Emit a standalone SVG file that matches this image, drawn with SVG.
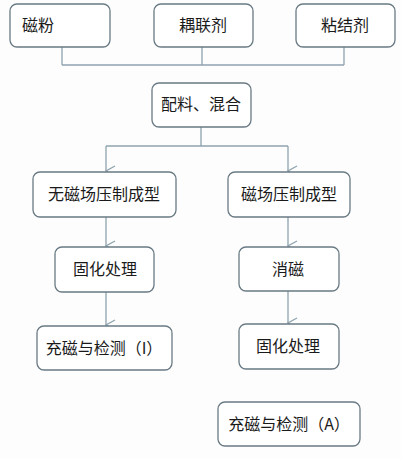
<svg xmlns="http://www.w3.org/2000/svg" width="401" height="459" viewBox="0 0 401 459">
<style>
.box{fill:#ffffff;stroke:#6a7a84;stroke-width:1.3}
.t{font-family:"Noto Sans CJK SC","Liberation Sans",sans-serif;font-size:16px;fill:#1a1a1a;text-anchor:middle}
.c{fill:none;stroke:#8ea3ae;stroke-width:1.3}
</style>
<defs>
<marker id="ah" viewBox="0 0 12 12" refX="6" refY="11" markerWidth="12" markerHeight="12" markerUnits="userSpaceOnUse" orient="auto-start-reverse">
<path d="M1,2 L6,11 L11,2" fill="none" stroke="#8ea3ae" stroke-width="1.2"/>
</marker>
</defs>
<rect width="401" height="459" fill="#fdfdfd"/>
<g id="connectors">
<path class="c" d="M62,47 V65 M202,47 V65 M344,47 V65 M62,65 H344"/>
<path class="c" d="M201,127 V146 M106,146 H288"/>
<path class="c" d="M106,146 V171" marker-end="url(#ah)"/>
<path class="c" d="M288,146 V171" marker-end="url(#ah)"/>
<path class="c" d="M106,217 V246" marker-end="url(#ah)"/>
<path class="c" d="M288,217 V246" marker-end="url(#ah)"/>
<path class="c" d="M106,292 V325" marker-end="url(#ah)"/>
<path class="c" d="M288,291 V323" marker-end="url(#ah)"/>
</g>
<g id="n1"><rect class="box" x="10" y="4" width="100" height="43" rx="7"/><text class="t" x="38" y="31">磁粉</text></g>
<g id="n2"><rect class="box" x="154" y="4" width="99" height="43" rx="7"/><text class="t" x="203" y="31">耦联剂</text></g>
<g id="n3"><rect class="box" x="296" y="4" width="99" height="43" rx="7"/><text class="t" x="345" y="31">粘结剂</text></g>
<g id="n4"><rect class="box" x="152" y="83" width="99" height="44" rx="7"/><text class="t" x="201" y="110">配料、混合</text></g>
<g id="n5"><rect class="box" x="33" y="172" width="143" height="45" rx="7"/><text class="t" x="104" y="200">无磁场压制成型</text></g>
<g id="n6"><rect class="box" x="228" y="172" width="122" height="45" rx="7"/><text class="t" x="289" y="200">磁场压制成型</text></g>
<g id="n7"><rect class="box" x="55" y="247" width="99" height="45" rx="7"/><text class="t" x="105" y="275">固化处理</text></g>
<g id="n8"><rect class="box" x="239" y="247" width="100" height="44" rx="7"/><text class="t" x="288" y="275">消磁</text></g>
<g id="n9"><rect class="box" x="37" y="326" width="135" height="44" rx="7"/><text class="t" x="104" y="354">充磁与检测（I）</text></g>
<g id="n10"><rect class="box" x="239" y="324" width="100" height="45" rx="7"/><text class="t" x="288" y="352">固化处理</text></g>
<g id="n11"><rect class="box" x="218" y="402" width="142" height="44" rx="7"/><text class="t" x="289" y="430">充磁与检测（A）</text></g>
</svg>
